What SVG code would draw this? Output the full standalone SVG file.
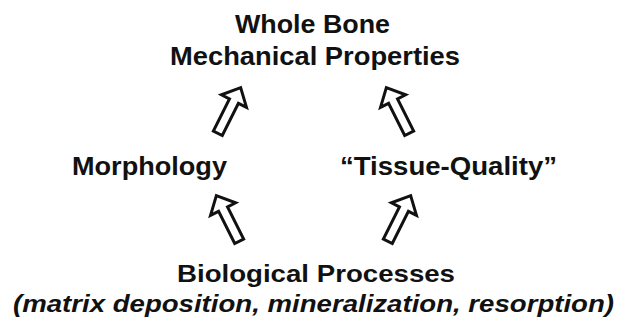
<svg xmlns="http://www.w3.org/2000/svg" width="619" height="322" viewBox="0 0 619 322">
<style>
  text { font-family: "Liberation Sans", Arial, sans-serif; font-weight: bold; fill: #111; text-anchor: middle; }
  .it { font-style: italic; }
  .arrow { fill: #fff; stroke: #111; stroke-width: 3; stroke-linejoin: miter; }
</style>
<defs>
  <path id="blockArrow" class="arrow" d="M0,3 L14,18 L5,18 L5,54 L-5,54 L-5,18 L-14,18 Z"/>
</defs>
<rect width="619" height="322" fill="#fff"/>
<g id="connectors">
  <use href="#blockArrow" transform="translate(242,85) rotate(26.6)"/>
  <use href="#blockArrow" transform="translate(385,85) rotate(-26.6)"/>
  <use href="#blockArrow" transform="translate(215,193) rotate(-26.6)"/>
  <use href="#blockArrow" transform="translate(412,193) rotate(26.6)"/>
</g>
<g id="node-whole-bone">
  <text x="312.5" y="33" font-size="26" textLength="155" lengthAdjust="spacingAndGlyphs">Whole Bone</text>
  <text x="315" y="65" font-size="26" textLength="290" lengthAdjust="spacingAndGlyphs">Mechanical Properties</text>
</g>
<g id="node-morphology">
  <text x="149.5" y="175" font-size="26.5" textLength="155" lengthAdjust="spacingAndGlyphs">Morphology</text>
</g>
<g id="node-tissue-quality">
  <text x="448.5" y="175" font-size="26.5" textLength="217" lengthAdjust="spacingAndGlyphs">“Tissue-Quality”</text>
</g>
<g id="node-biological-processes">
  <text x="316" y="282" font-size="24.5" textLength="278" lengthAdjust="spacingAndGlyphs">Biological Processes</text>
  <text class="it" x="313.5" y="312" font-size="24.5" textLength="601" lengthAdjust="spacingAndGlyphs">(matrix deposition, mineralization, resorption)</text>
</g>
</svg>
